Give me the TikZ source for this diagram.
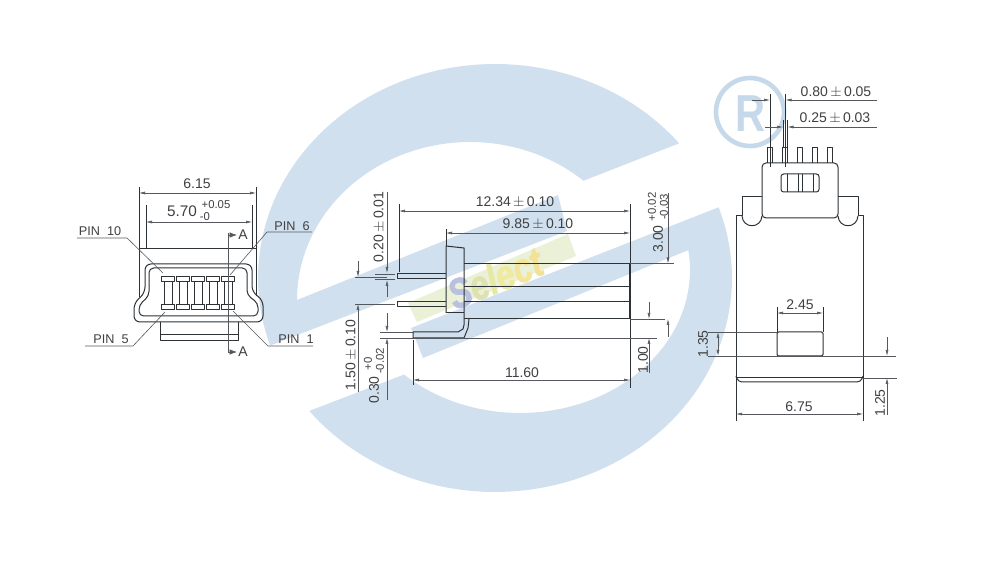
\documentclass[tikz,border=0pt]{standalone}
\usepackage{fontspec}
\setmainfont{Liberation Sans}
\newfontfamily\logofont{Liberation Sans}[FakeBold=1.6]
\usepackage{graphicx}
\usetikzlibrary{arrows.meta,positioning}
\definecolor{logoblue}{RGB}{209,224,238}
\definecolor{logogreen}{RGB}{234,241,214}
\definecolor{markblue}{RGB}{198,217,235}
\definecolor{inkgrey}{RGB}{45,50,55}
\definecolor{dimgrey}{RGB}{85,88,92}
\newcommand{\pmsign}{\,$\pm$\,}

\begin{document}
\begin{tikzpicture}[x=0.75pt,y=-0.75pt]

\tikzset{part/.style={draw=inkgrey,line width=0.75pt,line join=round},
thinpart/.style={draw=inkgrey,line width=0.45pt},
dimline/.style={draw=dimgrey,line width=0.45pt},
dimtip/.style={dimline,-{Latex[length=4.5pt,width=2.2pt]}},
dimtwo/.style={dimline,{Latex[length=4.5pt,width=2.2pt]}-{Latex[length=4.5pt,width=2.2pt]}},
secttip/.style={dimline,-{Latex[length=5.5pt,width=4pt]}},
dimtext/.style={font=\fontsize{10.5}{12}\selectfont,text=black!75,inner sep=0pt},
smalltext/.style={font=\fontsize{8.5}{10}\selectfont,text=black!75,inner sep=0pt},
pintext/.style={font=\fontsize{9.5}{11}\selectfont,text=black!75,inner sep=0pt}}

\useasboundingbox (0,0) rectangle (1000,570);
\fill[white] (0,0) rectangle (1000,570);

% Logo
\fill[logogreen] (408,303) -- (568,234) -- (576,256) -- (417,322) -- cycle;
\fill[logoblue] plot[domain=161.6:321,samples=80] ({495+237*cos(\x)},{278+214*sin(\x)})
  -- plot[domain=311:180,samples=60] ({470+173*cos(\x)},{300+158*sin(\x)})
  -- (558,195) -- (567,231) -- cycle;
\fill[logoblue] plot[domain=141.6:-19.3,samples=80] ({495+237*cos(\x)},{278+214*sin(\x)})
  -- (411,328) -- (423,358) -- plot[domain=-8:133,samples=60] ({520+170*cos(\x)},{270+143*sin(\x)}) -- cycle;
\node[rotate=22,inner sep=0pt,font=\fontsize{25}{25}\logofont\bfseries\itshape] (selectmark) at (495,278) {\scalebox{1}[1.25]{\textcolor[RGB]{186,193,224}{S}\textcolor[RGB]{222,226,176}{e}\textcolor[RGB]{232,232,165}{l}\textcolor[RGB]{240,234,160}{e}\textcolor[RGB]{243,230,155}{c}\textcolor[RGB]{243,226,150}{t}}};

% Registered mark
\draw[markblue,line width=3.5pt] (750,112) circle (34);
\node[inner sep=0pt,text=markblue,font=\fontsize{39}{39}\selectfont\bfseries] (regmark) at (751,114) {\scalebox{0.8}[1]{R}};

% Front view
\draw[part,rounded corners=4.5pt] (200,322) -- (134,322) -- (134,303) -- (145,293) -- (145,264) -- (252,264) -- (252,292) -- (263,300) -- (263,322) -- cycle;
\draw[part,rounded corners=3.5pt] (200,316) -- (139,316) -- (139,305) -- (149,296) -- (149,268) -- (247,268) -- (247,295) -- (258,303) -- (258,316) -- cycle;
\draw[thinpart] (139,297) -- (139,248) -- (256,248) -- (256,296);
\draw[part] (160,322) -- (160,341) -- (238,341) -- (238,322);
\draw[thinpart] (160,334) -- (238,334);
\foreach \x in {168,183,198,213,228} {
  \draw[part] (\x-4,282) rectangle (\x+4,305);
  \draw[part,fill=white] (\x-6.3,277) rectangle (\x+6.3,282);
  \draw[part,fill=white] (\x-6.3,305) rectangle (\x+6.3,310);
}

% Front view dimensions
\draw[thinpart] (139,187) -- (139,248);
\draw[thinpart] (256,187) -- (256,248);
\draw[thinpart] (146,205) -- (146,248);
\draw[thinpart] (252,205) -- (252,248);
\draw[dimtwo] (139,193) -- (256,193);
\draw[dimtwo] (146,222) -- (252,222);
\node[dimtext] (frontwidth) at (197,184) {6.15};
\node[dimtext,font=\fontsize{11.5}{13}\selectfont] (slotwidth) at (182,211) {5.70};
\node[smalltext] (slotplus) at (216,205) {+0.05};
\node[smalltext] (slotminus) at (205,217) {-0};

% Pin labels
\node[pintext] (pinten) at (100,231) {PIN~~10};
\node[pintext] (pinsix) at (292,226) {PIN~~6};
\node[pintext] (pinfive) at (111,339) {PIN~~5};
\node[pintext] (pinone) at (296,339) {PIN~~1};
\draw[dimline] (77,238) -- (127,238) -- (163,273);
\draw[dimline] (312,232) -- (267,232) -- (230,275);
\draw[dimline] (85,346) -- (133,346) -- (165,312);
\draw[dimline] (313,346) -- (268,346) -- (233,311);

% Section line
\draw[dimline] (228,233) -- (228,352);
\draw[secttip] (228,235) -- (237,235);
\draw[secttip] (228,352) -- (237,352);
\node[dimtext] (secttop) at (243,235) {A};
\node[dimtext] (sectbot) at (243,352) {A};

% Side view
\draw[part] (446,313) -- (446,246) -- (464,248) -- (464,319);
\draw[part] (446,313) -- (464,313);
\draw[part] (464,263.5) -- (630,263.5);
\draw[part] (464,287) -- (630,287);
\draw[part] (464,302) -- (630,302);
\draw[part] (464,319) -- (630,319);
\draw[part,line width=1.2pt] (629.5,263.5) -- (629.5,287);
\draw[part] (629.5,287) -- (629.5,319);
\draw[part] (446,274) -- (397,274) -- (397,279) -- (446,279);
\draw[part] (446,302) -- (397,302) -- (397,307) -- (446,307);
\draw[part] (464,319) -- (464,325) -- (463,329) -- (458,332) -- (413,332) -- (413,338) -- (464,338) -- (468,328) -- (469,319);

% Side view dimensions
\draw[thinpart] (399,204) -- (399,272);
\draw[thinpart] (630,204) -- (630,388);
\draw[thinpart] (446,229) -- (446,246);
\draw[dimtwo] (399,211) -- (630,211);
\draw[dimtwo] (446,233) -- (630,233);
\node[dimtext] (lengthall) at (515,202) {12.34\pmsign 0.10};
\node[dimtext] (lengthbody) at (538,224) {9.85\pmsign 0.10};

\draw[dimline] (375,274) -- (395,274);
\draw[dimline] (375,279) -- (395,279);
\draw[dimline] (355,277) -- (387,277);
\draw[dimtip] (387,192) -- (387,273);
\draw[dimtip] (387,297) -- (387,280);
\node[dimtext,rotate=90] (pinthick) at (379,227) {0.20\pmsign 0.01};

\draw[dimline] (355,304) -- (395,304);
\draw[dimtip] (358,261) -- (358,277);
\draw[dimtip] (358,392) -- (358,304);
\node[dimtext,rotate=90] (pinpitch) at (351,355) {1.50\pmsign 0.10};

\draw[dimline] (380,332) -- (413,332);
\draw[dimline] (380,338) -- (657,338);
\draw[dimtip] (387,313) -- (387,332);
\draw[dimtip] (387,400) -- (387,338);
\node[dimtext,rotate=90] (footthick) at (374,390) {0.30};
\node[smalltext,rotate=90] (footplus) at (368,364) {+0};
\node[smalltext,rotate=90] (footminus) at (380,361) {-0.02};

\draw[dimline] (630,263.5) -- (674,263.5);
\draw[dimline] (630,319) -- (665,319);
\draw[dimtip] (668,193) -- (668,263.5);
\draw[dimtip] (668,337) -- (668,319);
\node[dimtext,rotate=90] (bodyheight) at (658,239) {3.00};
\node[smalltext,rotate=90] (bodyplus) at (652,207) {+0.02};
\node[smalltext,rotate=90] (bodyminus) at (664,207) {-0.03};

\draw[dimtip] (649,302) -- (649,319);
\draw[dimtip] (649,373) -- (649,338);
\node[dimtext,rotate=90] (footdrop) at (643,360) {1.00};

\draw[thinpart] (413,340) -- (413,385);
\draw[dimtwo] (413,380) -- (630,380);
\node[dimtext] (footlength) at (522,373) {11.60};

% Rear view
\draw[part] (736,382) -- (736,216) -- (742,216) -- (742,197) -- (762,197);
\draw[part] (742,216) .. controls (743,229) and (761,229) .. (762,216);
\draw[part] (863,382) -- (863,216) -- (858,216) -- (858,197) -- (838,197);
\draw[part] (838,216) .. controls (839,229) and (857,229) .. (858,216);
\draw[part,rounded corners=3pt] (762,218) -- (762,163) -- (838,163) -- (838,218) -- cycle;
\draw[part] (736,378) -- (863,378);
\draw[part,rounded corners=3pt] (736,376) -- (738,382) -- (861,382) -- (863,376);
\draw[part,rounded corners=2pt] (781,174) rectangle (819,192);
\foreach \x in {787,798,802,813} \draw[part] (\x,174) -- (\x,192);
\foreach \x in {770,785,800,815,830} \draw[part] (\x-2.7,163) -- (\x-2.7,148) -- (\x+2.7,148) -- (\x+2.7,163);
\draw[part,rounded corners=1pt] (777,332) rectangle (823,356);

% Rear view dimensions
\draw[thinpart] (770,94) -- (770,167);
\draw[thinpart] (785,94) -- (785,167);
\draw[thinpart] (783,120) -- (783,148);
\draw[thinpart] (787,120) -- (787,148);
\draw[dimtip] (752,100) -- (770,100);
\draw[dimtip] (877,100) -- (785.5,100);
\draw[dimtip] (765,127) -- (783,127);
\draw[dimtip] (877,127) -- (787.5,127);
\node[dimtext] (pinpitchtop) at (836,92) {0.80\pmsign 0.05};
\node[dimtext] (pinwidthtop) at (835,118) {0.25\pmsign 0.03};

\draw[thinpart] (777,307) -- (777,332);
\draw[thinpart] (823,307) -- (823,332);
\draw[dimtwo] (777,313) -- (823,313);
\node[dimtext] (windowwidth) at (800,305) {2.45};

\draw[dimline] (708,332) -- (777,332);
\draw[dimline] (708,356) -- (896,356);
\draw[dimtwo] (718,332) -- (718,356);
\node[dimtext,rotate=90] (windowheight) at (703,344) {1.35};

\draw[dimline] (863,378) -- (897,378);
\draw[dimtip] (887,337) -- (887,356);
\draw[dimtip] (887,415) -- (887,378);
\node[dimtext,rotate=90] (windowdrop) at (880,403) {1.25};

\draw[thinpart] (736,382) -- (736,421);
\draw[thinpart] (863,382) -- (863,421);
\draw[dimtwo] (736,414) -- (863,414);
\node[dimtext] (rearwidth) at (799,407) {6.75};

\end{tikzpicture}
\end{document}
